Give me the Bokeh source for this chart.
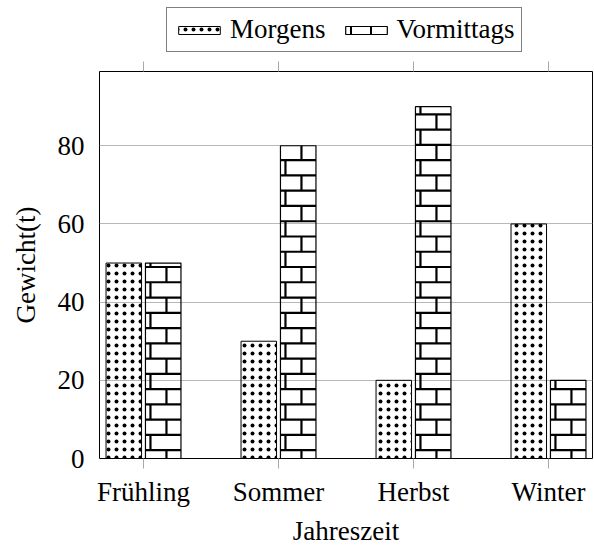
from bokeh.plotting import figure
from bokeh.layouts import column
from bokeh.models import (ColumnDataSource, FixedTicker, LinearAxis, Range1d,
                          Legend, LegendItem)
from bokeh.transform import dodge
from bokeh.embed import file_html
from bokeh.resources import INLINE

# ---- data ----
seasons = ["Frühling", "Sommer", "Herbst", "Winter"]
morgens = [50, 30, 20, 60]
vormittags = [50, 80, 90, 20]
y_ticks = [0, 20, 40, 60, 80]

FONT = "Liberation Serif"
FS = "27px"
TICK_GRAY = "#a8a8a8"

X_START, X_END = -0.326, 3.326
Y_END = 99
OFF, BW = 0.146, 0.263
W, H = 594, 487
BL, BR, BT, BB = 99, 2, 10, 89
px_x = (W - BL - BR) / (X_END - X_START)
px_y = (H - BT - BB) / Y_END

src = ColumnDataSource(dict(x=list(range(len(seasons))),
                            morgens=morgens, vormittags=vormittags))

# brick fill pattern (drawn as line segments inside each "Vormittags" bar)
BRICK_H = 15.3 / px_y        # row height in data units
BRICK_Y0 = 2.14               # phase of the mortar lines
JOINT_A = 5 / px_x
JOINT_B = 21 / px_x
bx0, by0, bx1, by1 = [], [], [], []
for i, v in enumerate(vormittags):
    xl = i + OFF - BW / 2
    xr = i + OFF + BW / 2
    k = -1
    while True:
        lo = max(0.0, BRICK_Y0 + k * BRICK_H)
        hi = min(v, BRICK_Y0 + (k + 1) * BRICK_H)
        if lo >= v:
            break
        if hi > lo:
            jx = xl + (JOINT_A if k % 2 == 0 else JOINT_B)
            bx0.append(jx); bx1.append(jx); by0.append(lo); by1.append(hi)
        yl = BRICK_Y0 + (k + 1) * BRICK_H
        if yl < v:
            bx0.append(xl); bx1.append(xr); by0.append(yl); by1.append(yl)
        k += 1
brick_src = ColumnDataSource(dict(x0=bx0, y0=by0, x1=bx1, y1=by1))

dot_style = dict(fill_color=None, line_color="black", line_width=1,
                 hatch_pattern="dot", hatch_color="black", hatch_scale=8,
                 hatch_weight=0.8)

# ---- main plot ----
p = figure(width=W, height=H, output_backend="svg", toolbar_location=None,
           x_range=Range1d(X_START, X_END), y_range=Range1d(0, Y_END),
           min_border_left=BL, min_border_right=BR, min_border_top=BT,
           min_border_bottom=BB)
p.background_fill_color = "white"
p.border_fill_color = "white"
p.outline_line_color = "black"
p.outline_line_width = 1

p.vbar(x=dodge('x', -OFF), top='morgens', width=BW, source=src, **dot_style)
p.segment(x0='x0', y0='y0', x1='x1', y1='y1', source=brick_src,
          line_color="black", line_width=2.2, line_cap="butt")
p.vbar(x=dodge('x', OFF), top='vormittags', width=BW, source=src,
       fill_color=None, line_color="black", line_width=1.2)

xt = FixedTicker(ticks=list(range(len(seasons))))
xa = p.xaxis[0]
xa.ticker = xt
xa.major_label_overrides = {i: s for i, s in enumerate(seasons)}
xa.axis_line_color = None
xa.major_tick_line_color = TICK_GRAY
xa.major_tick_in = 0
xa.major_tick_out = 10
xa.minor_tick_line_color = None
xa.major_label_standoff = 8
xa.major_label_text_font = FONT
xa.major_label_text_font_size = FS
xa.major_label_text_color = "black"
xa.axis_label = "Jahreszeit"
xa.axis_label_text_font = FONT
xa.axis_label_text_font_size = FS
xa.axis_label_text_font_style = "normal"
xa.axis_label_text_color = "black"
xa.axis_label_standoff = 6

top = LinearAxis(ticker=xt, axis_line_color=None, major_tick_in=0,
                 major_tick_out=10, major_tick_line_color=TICK_GRAY,
                 minor_tick_line_color=None, major_label_text_font_size="0px",
                 major_label_standoff=0)
top.major_label_overrides = {i: "" for i in range(len(seasons))}
p.add_layout(top, "above")

ya = p.yaxis[0]
ya.ticker = FixedTicker(ticks=y_ticks)
ya.axis_line_color = None
ya.major_tick_line_color = None
ya.minor_tick_line_color = None
ya.major_label_standoff = 9
ya.major_label_text_font = FONT
ya.major_label_text_font_size = FS
ya.major_label_text_color = "black"
ya.axis_label = "Gewicht(t)"
ya.axis_label_text_font = FONT
ya.axis_label_text_font_size = FS
ya.axis_label_text_font_style = "normal"
ya.axis_label_text_color = "black"
ya.axis_label_standoff = 14

p.xgrid.visible = False
p.ygrid.ticker = FixedTicker(ticks=y_ticks)
p.ygrid.grid_line_color = "#b8b8b8"
p.ygrid.grid_line_width = 1

# ---- legend strip (proxies use the same data, drawn outside the view) ----
leg = figure(width=W, height=548 - H, output_backend="svg",
             toolbar_location=None,
             x_range=Range1d(0, 1), y_range=Range1d(1000, 1001),
             x_axis_location=None, y_axis_location=None,
             min_border_left=0, min_border_right=0, min_border_top=0,
             min_border_bottom=0)
leg.grid.visible = False
leg.outline_line_color = None
l1 = leg.vbar(x='x', top='morgens', width=BW, source=src, **dot_style)
l2 = leg.vbar(x='x', top='vormittags', width=BW, source=src,
              fill_color=None, line_color="black", line_width=1.2,
              hatch_pattern="cross", hatch_color="black", hatch_scale=20,
              hatch_weight=2)

legend = Legend(items=[LegendItem(label="Morgens", renderers=[l1]),
                       LegendItem(label="Vormittags", renderers=[l2])],
                orientation="horizontal", location=(67, 9),
                glyph_width=52, glyph_height=10, label_standoff=5, spacing=14,
                padding=6, margin=0,
                label_text_font=FONT, label_text_font_size=FS,
                label_text_color="black",
                border_line_color="black", border_line_width=1,
                background_fill_color="white", background_fill_alpha=1)
leg.add_layout(legend)

layout = column(leg, p, spacing=0)
open("out.html", "w").write(file_html(layout, INLINE))
